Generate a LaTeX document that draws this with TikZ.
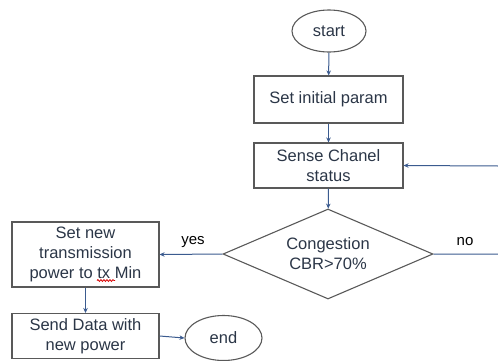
\documentclass[tikz,border=0pt]{standalone}
\usepackage{fontspec}
\setmainfont{Liberation Sans}
\usetikzlibrary{shapes.geometric,arrows.meta,decorations.pathmorphing}
\definecolor{txtcol}{HTML}{2B3647}
\definecolor{edgecol}{HTML}{595959}
\definecolor{arrowcol}{HTML}{3B5B8F}
\tikzset{
  every node/.style={font=\fontsize{16.5}{20}\selectfont, text=txtcol, align=center},
  procbox/.style={draw=edgecol, line width=1.1pt, rectangle, inner sep=0pt},
  termin/.style={draw=edgecol, line width=1.1pt, ellipse, inner sep=0pt},
  decide/.style={draw=edgecol, line width=1.1pt, diamond, inner sep=0pt, aspect=2.33},
  flow/.style={draw=arrowcol, line width=1pt, -{Stealth[length=5pt,width=4.5pt]}},
  lbl/.style={font=\fontsize{15}{18}\selectfont, text=black},
  squiggle/.style={draw=red!85!black, line width=0.8pt, decorate, decoration={snake, amplitude=0.9pt, segment length=3pt}}
}
\begin{document}
\begin{tikzpicture}[x=1pt,y=-1pt]
  \useasboundingbox (0,0) rectangle (498,360);
  % terminals
  \node[termin, minimum width=74pt, minimum height=42pt] (start) at (329,31) {start};
  \node[termin, minimum width=77pt, minimum height=45pt] (end) at (223.5,338) {end};
  % process boxes
  \node[procbox, minimum width=149pt, minimum height=47pt] (init) at (328.5,99.5) {Set initial param};
  \node[procbox, minimum width=149pt, minimum height=45pt] (sense) at (328.5,165.5) {Sense Chanel\\status};
  \node[procbox, minimum width=147pt, minimum height=65pt] (setpow) at (85.5,254.5) {Set new\\transmission\\power to tx Min};
  \node[procbox, minimum width=147pt, minimum height=45pt] (send) at (85.5,336) {Send Data with\\new power};
  % decision
  \node[decide, minimum width=210pt, minimum height=90pt] (cong) at (328,254) {Congestion\\CBR>70\%};
  % branch labels
  \node[lbl] (yeslbl) at (193,242) {yes};
  \node[lbl] (nolbl) at (465,242) {no};
  % spell-check underline below "tx"
  \coordinate (sqA) at (97,280.5);
  \coordinate (sqB) at (115,280.5);
  \draw[squiggle] (sqA) -- (sqB);
  % loop-back corner points
  \coordinate (noA) at (499,254);
  \coordinate (noB) at (499,166);
  % connectors
  \draw[flow] (start) -- (init);
  \draw[flow] (init) -- (sense);
  \draw[flow] (sense) -- (cong);
  \draw[flow] (cong.west) -- (setpow.east);
  \draw[flow] (setpow) -- (send);
  \draw[flow] (send.east) -- (end.west);
  \draw[flow] (cong.east) -- (noA) -- (noB) -- (sense.east);
\end{tikzpicture}
\end{document}
